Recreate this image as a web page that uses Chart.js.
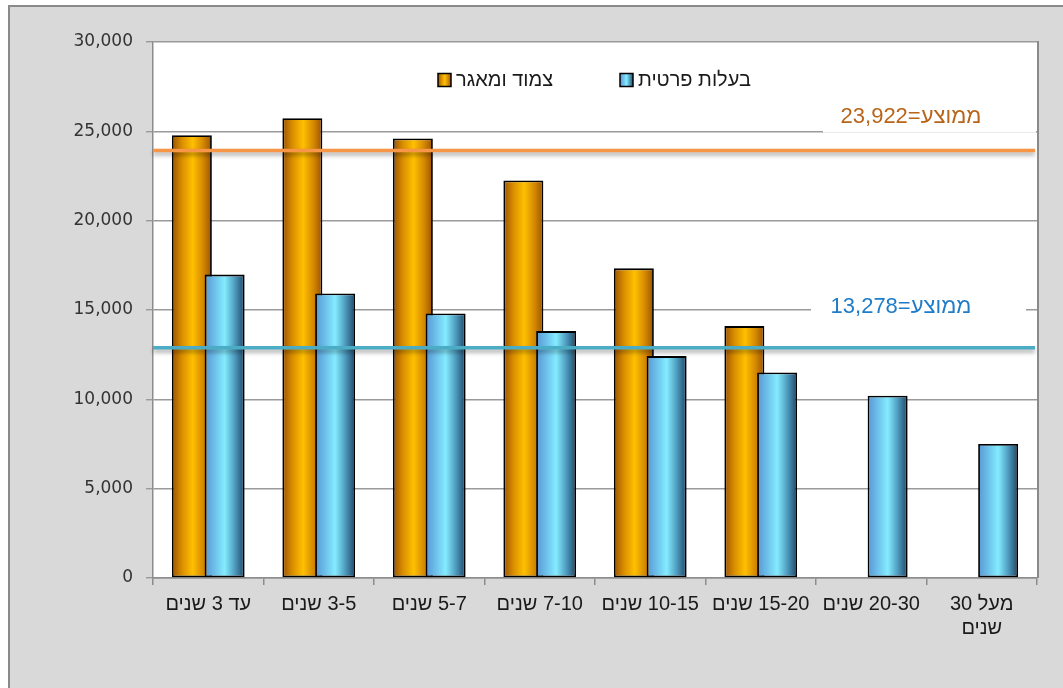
<!DOCTYPE html>
<html>
<head>
<meta charset="utf-8">
<script src="https://cdn.jsdelivr.net/npm/chart.js@4.4.1/dist/chart.umd.min.js"></script>
<style>
  html, body { margin: 0; padding: 0; background: #ffffff; }
  #wrap { position: relative; width: 1063px; height: 688px; overflow: hidden; }
  #bg { position: absolute; left: 8px; top: 5px; width: 1100px; height: 720px;
        background: #d9d9d9; border-left: 2px solid #8a8a8a; border-top: 2px solid #8a8a8a; }
  canvas { position: absolute; left: 0; top: 0; }
</style>
</head>
<body>
<div id="wrap">
  <div id="bg"></div>
  <canvas id="c" width="1063" height="688" dir="rtl"></canvas>
</div>
<script>
// ---- data ----
const categories = ['עד 3 שנים', '3-5 שנים', '5-7 שנים', '7-10 שנים', '10-15 שנים', '15-20 שנים', '20-30 שנים', ['מעל 30', 'שנים']];
const seriesNames = ['צמוד ומאגר', 'בעלות פרטית'];
const linkedValues = [24780, 25730, 24600, 22250, 17330, 14100, null, null];
const privateValues = [16980, 15920, 14800, 13820, 12420, 11500, 10200, 7500];
const avgLineValues = [23922, 12890];
const avgLabels = ['ממוצע=23,922', 'ממוצע=13,278'];
const yTicks = [0, 5000, 10000, 15000, 20000, 25000, 30000];

// ---- styles ----
const gradStops = [
  [[0, '#9a5200'], [0.25, '#d98e00'], [0.52, '#ffc000'], [0.78, '#d48800'], [1, '#9a5200']],
  [[0, '#5a96d2'], [0.25, '#6cc0ea'], [0.5, '#84ecff'], [0.75, '#4f9cc0'], [1, '#1f4766']]
];
const solidFallback = ['#e09a00', '#6cc0ea'];
const avgLineColors = ['#f79646', '#4bacc6'];
const avgTextColors = ['#b8651a', '#1f7cc8'];
const avgTextOffsets = [-36, -43];

function makeGrad(ctx, x0, x1, ds) {
  const g = ctx.createLinearGradient(x0, 0, x1, 0);
  gradStops[ds].forEach(s => g.addColorStop(s[0], s[1]));
  return g;
}
function barFill(context) {
  const el = context.element;
  const ds = context.datasetIndex;
  if (!el || !isFinite(el.x) || !isFinite(el.width)) return solidFallback[ds];
  return makeGrad(context.chart.ctx, el.x - el.width / 2, el.x + el.width / 2, ds);
}

// draw dataset 0 (orange) behind dataset 1 (blue)
const orderPlugin = {
  id: 'drawOrder',
  beforeDatasetDraw(chart, args) {
    if (args.index === 1) {
      chart.getDatasetMeta(0).controller.draw();
      return true;
    }
    if (args.index === 0) return false;
  }
};

const decorPlugin = {
  id: 'decor',
  beforeDraw(chart) {
    const { ctx, chartArea: a } = chart;
    ctx.save();
    ctx.fillStyle = '#ffffff';
    ctx.fillRect(a.left, a.top, a.right - a.left, a.bottom - a.top);
    ctx.restore();
  },
  afterDatasetsDraw(chart) {
    const { ctx, chartArea: a } = chart;
    const ys = chart.scales.y;
    ctx.save();
    avgLineValues.forEach((v, i) => {
      const y = ys.getPixelForValue(v);
      ctx.save();
      ctx.shadowColor = 'rgba(0,0,0,0.35)';
      ctx.shadowBlur = 4;
      ctx.shadowOffsetY = 3;
      ctx.strokeStyle = avgLineColors[i];
      ctx.lineWidth = 3.5;
      ctx.beginPath();
      ctx.moveTo(a.left, y);
      ctx.lineTo(a.right - 2, y);
      ctx.stroke();
      ctx.restore();
    });
    const boxes = [
      { x0: a.right - 214, x1: a.right - 1, h: 36 },
      { x0: a.right - 226, x1: a.right - 11, h: 34 }
    ];
    const textX = [a.right - 126, a.right - 136];
    avgLabels.forEach((t, i) => {
      const y = ys.getPixelForValue(avgLineValues[i]) + avgTextOffsets[i];
      ctx.fillStyle = '#ffffff';
      ctx.fillRect(boxes[i].x0, y - boxes[i].h / 2, boxes[i].x1 - boxes[i].x0, boxes[i].h);
      ctx.direction = 'rtl';
      ctx.font = '22px "Liberation Sans", Arial, sans-serif';
      ctx.fillStyle = avgTextColors[i];
      ctx.textAlign = 'center';
      ctx.textBaseline = 'middle';
      ctx.fillText(t, textX[i], y + 2);
    });
    ctx.restore();
  },
  afterDraw(chart) {
    const { ctx, chartArea: a } = chart;
    ctx.save();
    ctx.strokeStyle = '#8a8a8a';
    ctx.lineWidth = 2;
    ctx.beginPath();
    ctx.moveTo(a.right + 1, a.top - 1);
    ctx.lineTo(a.right + 1, a.bottom);
    ctx.stroke();
    const items = [
      { box: 438, text: 456 },
      { box: 620, text: 638 }
    ];
    const ly = 80;
    ctx.font = '20px "Liberation Sans", Arial, sans-serif';
    ctx.textBaseline = 'middle';
    chart.data.datasets.forEach((ds, i) => {
      const bx = items[i].box;
      ctx.fillStyle = makeGrad(ctx, bx, bx + 13, i);
      ctx.fillRect(bx, ly - 6.5, 13, 13);
      ctx.strokeStyle = '#000';
      ctx.lineWidth = 1.5;
      ctx.strokeRect(bx, ly - 6.5, 13, 13);
      ctx.fillStyle = '#1a1a1a';
      ctx.direction = 'rtl';
      ctx.textAlign = 'left';
      ctx.fillText(ds.label, items[i].text, ly);
    });
    ctx.restore();
  }
};

const chart = new Chart(document.getElementById('c'), {
  type: 'bar',
  data: {
    labels: categories,
    datasets: [
      { label: seriesNames[0], data: linkedValues, backgroundColor: barFill, borderColor: '#000', borderWidth: 1.8, borderSkipped: false },
      { label: seriesNames[1], data: privateValues, backgroundColor: barFill, borderColor: '#000', borderWidth: 1.8, borderSkipped: false }
    ]
  },
  options: {
    responsive: false,
    animation: false,
    devicePixelRatio: 1,
    datasets: { bar: { barPercentage: 1.22, categoryPercentage: 0.593 } },
    layout: { padding: { left: 0, top: 42, right: 26, bottom: 0 } },
    plugins: { legend: { display: false }, tooltip: { enabled: false } },
    scales: {
      x: {
        offset: true,
        grid: { offset: true, drawOnChartArea: false, drawTicks: true, tickLength: 7, color: '#8c8c8c', lineWidth: 1.5 },
        border: { color: '#8c8c8c', width: 1.5 },
        ticks: { color: '#1a1a1a', font: { family: '"Liberation Sans", Arial, sans-serif', size: 20 }, padding: 7, maxRotation: 0, minRotation: 0, autoSkip: false },
        afterFit(s) { s.height = 110; }
      },
      y: {
        min: 0, max: 30000,
        afterBuildTicks(s) { s.ticks = yTicks.map(v => ({ value: v })); },
        grid: { color: '#9a9a9a', lineWidth: 1.4, tickLength: 7 },
        border: { color: '#8c8c8c', width: 1.5 },
        ticks: { color: '#333333', font: { family: '"DejaVu Sans", Verdana, sans-serif', size: 17 }, padding: 13,
                 callback: v => Number(v).toLocaleString('en-US') },
        afterFit(s) { s.width = 153; }
      }
    }
  },
  plugins: [orderPlugin, decorPlugin]
});
chart.update();
</script>
</body>
</html>
